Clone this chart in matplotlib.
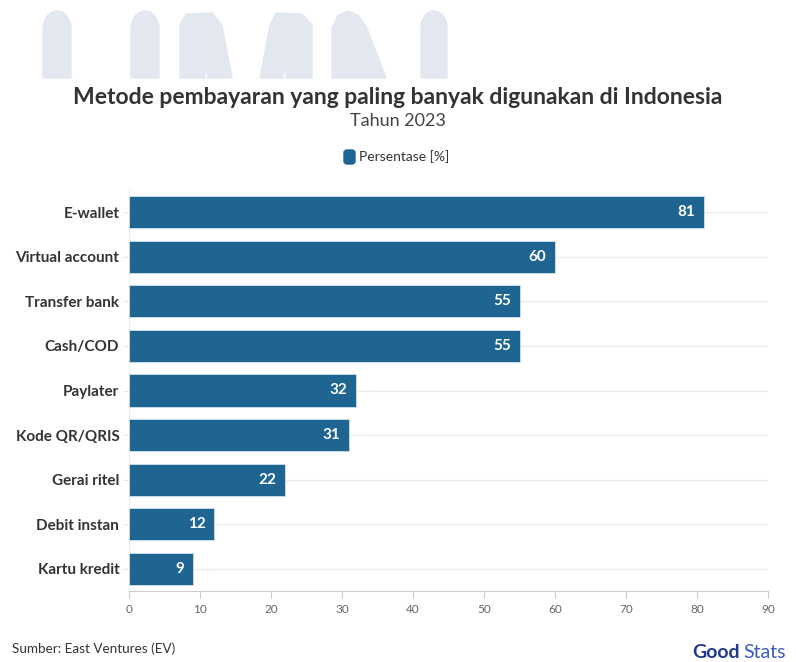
import numpy as np
import matplotlib.pyplot as plt
from matplotlib.patches import FancyBboxPatch, Polygon

plt.rcParams['font.family'] = ['Lato', 'DejaVu Sans']

categories = ["E-wallet", "Virtual account", "Transfer bank", "Cash/COD", "Paylater",
              "Kode QR/QRIS", "Gerai ritel", "Debit instan", "Kartu kredit"]
values = [81, 60, 55, 55, 32, 31, 22, 12, 9]
xticks = [0, 10, 20, 30, 40, 50, 60, 70, 80, 90]

bar_color = "#1f6591"

fig = plt.figure(figsize=(7.96, 6.62), dpi=100)
W, H = 796, 662

def fx(x): return x / W
def fy(y): return 1 - y / H

# decorative watermark shapes at top (cut at y=78)
wm = "#e3e7ef"
def pill(x0, x1, ytop=11):
    r = (x1 - x0) / 2
    t = np.linspace(np.pi, 0, 20)
    pts = [(fx(x0), fy(78))]
    for a in t:
        pts.append((fx(x0 + r + r * np.cos(a)), fy(ytop + r * 1.3 - r * 1.3 * np.sin(a))))
    pts.append((fx(x1), fy(78)))
    fig.patches.append(Polygon(pts, closed=True, transform=fig.transFigure, color=wm, zorder=0))

pill(43, 71)
pill(131, 159)
pill(421, 447)
# M shape
fig.patches.append(Polygon([(fx(180), fy(78)), (fx(180), fy(25)), (fx(186), fy(14)),
                            (fx(212), fy(13)), (fx(222), fy(25)), (fx(232), fy(78)),
                            (fx(208), fy(78)), (fx(205), fy(58)), (fx(205), fy(78))],
                           closed=True, transform=fig.transFigure, color=wm, zorder=0))
fig.patches.append(Polygon([(fx(260), fy(78)), (fx(270), fy(25)), (fx(276), fy(13)),
                            (fx(302), fy(14)), (fx(312), fy(25)), (fx(312), fy(78)),
                            (fx(286), fy(78)), (fx(286), fy(58)), (fx(283), fy(78))],
                           closed=True, transform=fig.transFigure, color=wm, zorder=0))
# A-like shape
fig.patches.append(Polygon([(fx(332), fy(78)), (fx(332), fy(28)), (fx(338), fy(15)),
                            (fx(348), fy(11)), (fx(358), fy(15)), (fx(366), fy(26)),
                            (fx(386), fy(78))],
                           closed=True, transform=fig.transFigure, color=wm, zorder=0))

ax = fig.add_axes([129 / W, 1 - 591.3 / H, (768 - 129) / W, (591.3 - 189.7) / H])
y = list(range(len(categories)))
ax.barh(y, values, height=0.72, color=bar_color, edgecolor="#cfe0ec", linewidth=0.6, zorder=3)
ax.set_ylim(len(categories) - 0.5, -0.5)
ax.set_xlim(0, 90)
ax.set_xticks(xticks)
ax.set_xticklabels([str(t) for t in xticks], fontsize=8.5, color="#666666")
ax.set_yticks(y)
ax.set_yticklabels(categories, fontsize=11, fontweight="bold", color="#333333")
ax.tick_params(axis='y', length=4, color="#e6e6e6", pad=3)
ax.tick_params(axis='x', length=5, color="#cccccc", pad=4)
ax.grid(axis='y', color="#ececec", linewidth=1, zorder=0)
ax.grid(axis='x', visible=False)
for s in ["top", "right"]:
    ax.spines[s].set_visible(False)
ax.spines["left"].set_color("#eeeeee")
ax.spines["bottom"].set_color("#cccccc")

for yi, v in zip(y, values):
    ax.text(v - 1.2, yi, str(v), ha="right", va="center", color="white",
            fontsize=11, fontweight="bold", zorder=4)

fig.text(0.5, fy(97), "Metode pembayaran yang paling banyak digunakan di Indonesia",
         ha="center", va="center", fontsize=16.5, fontweight="bold", color="#333333")
fig.text(0.5, fy(121), "Tahun 2023", ha="center", va="center", fontsize=13, color="#444444")

# legend
fig.patches.append(FancyBboxPatch((fx(344), fy(164)), fx(11), fy(150) - fy(164),
                                  boxstyle="round,pad=0,rounding_size=0.004",
                                  transform=fig.transFigure, color=bar_color))
fig.text(fx(359), fy(157), "Persentase [%]", ha="left", va="center", fontsize=10, color="#333333")

fig.text(fx(12), fy(649), "Sumber: East Ventures (EV)", ha="left", va="center",
         fontsize=9.7, color="#333333")
fig.text(fx(692), fy(652), "Good", ha="left", va="center", fontsize=14, fontweight="bold",
         color="#1e3a8a")
fig.text(fx(743), fy(652), "Stats", ha="left", va="center", fontsize=14, color="#3b5bbf")

fig.savefig("out.png", dpi=100)
